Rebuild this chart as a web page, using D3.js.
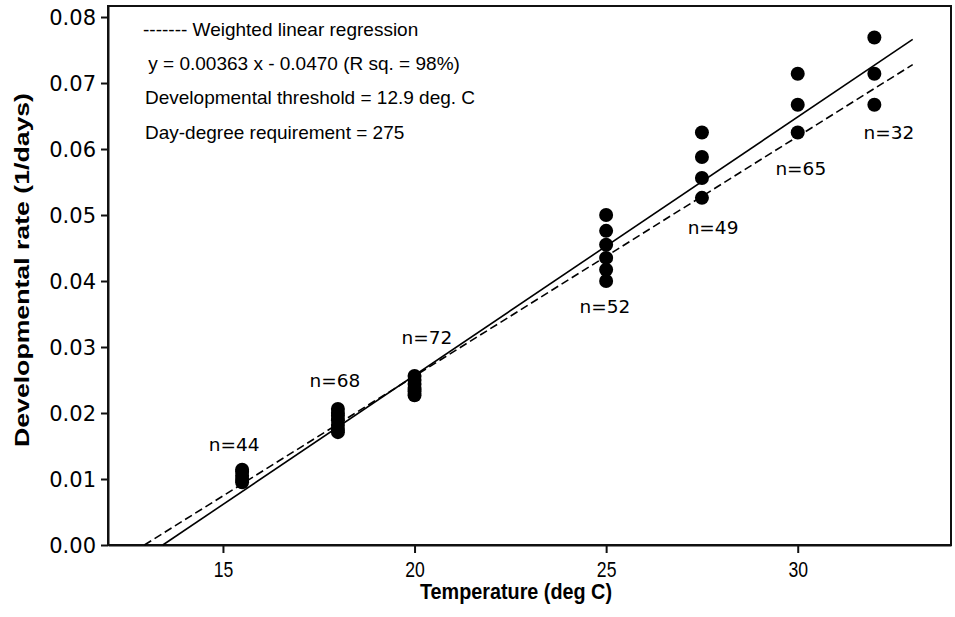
<!DOCTYPE html>
<html><head><meta charset="utf-8">
<script src="https://cdn.jsdelivr.net/npm/d3@7"></script>
<style>body{margin:0;background:#fff}svg{display:block}</style>
</head><body><svg id="c" width="955" height="617"></svg>
<script>
// ---- data ----
const temps = [15.5, 18, 20, 25, 27.5, 30, 32];
const rates155 = [0.0095, 0.0100, 0.0105, 0.0111, 0.0114];
const rates18 = [0.0171, 0.0176, 0.0182, 0.0189, 0.0196, 0.0200, 0.0206];
const rates20 = [0.0227, 0.0233, 0.0238, 0.0244, 0.0250, 0.0256];
const rates25 = [0.0400, 0.0417, 0.0435, 0.0455, 0.0476, 0.0500];
const rates275 = [0.0526, 0.0556, 0.0588, 0.0625];
const rates30 = [0.0625, 0.0667, 0.0714];
const rates32 = [0.0667, 0.0714, 0.0769];
const sampleSizes = [44, 68, 72, 52, 49, 65, 32];
const xTicks = [15, 20, 25, 30];
const yTicks = [0, 0.01, 0.02, 0.03, 0.04, 0.05, 0.06, 0.07, 0.08];
// weighted regression (dashed): y = 0.00363 x - 0.0470
const weightedLine = [[12.95, 0], [33, 0.00363 * 33 - 0.0470]];
// ordinary fit (solid)
const solidLine = [[13.43, 0], [33, 0.0766]];
// annotation anchors in data space
const labelAnchors = [[15.29, 0.0153], [17.92, 0.0250], [20.32, 0.0315], [24.97, 0.0361], [27.79, 0.0482], [30.08, 0.0570], [32.38, 0.0626]];
const legendLines = [
  "------- Weighted linear regression",
  " y = 0.00363 x - 0.0470 (R sq. = 98%)",
  "Developmental threshold = 12.9 deg. C",
  "Day-degree requirement = 275"
];
const xTitle = "Temperature (deg C)";
const yTitle = "Developmental rate (1/days)";

const groups = [rates155, rates18, rates20, rates25, rates275, rates30, rates32];
const points = [];
groups.forEach((g, i) => g.forEach(v => points.push({t: temps[i], r: v})));

// ---- layout ----
const L = 108, R = 951, T = 6, B = 545;
const svg = d3.select("#c");
const x = d3.scaleLinear().domain([12, 34]).range([L, R]);
const y = d3.scaleLinear().domain([0, 0.08167]).range([B, T]);

// frame
svg.append("rect").attr("x", L).attr("y", T).attr("width", R - L).attr("height", B - T)
  .attr("fill", "none").attr("stroke", "#111").attr("stroke-width", 2);

// axes
const xAxis = svg.append("g").attr("transform", `translate(0,${B})`)
  .call(d3.axisBottom(x).tickValues(xTicks).tickSize(8).tickSizeOuter(0).tickPadding(8));
const yAxis = svg.append("g").attr("transform", `translate(${L},0)`)
  .call(d3.axisLeft(y).tickValues(yTicks).tickFormat(d3.format(".2f")).tickSize(7).tickSizeOuter(0).tickPadding(5));
[xAxis, yAxis].forEach(a => {
  a.select(".domain").attr("stroke", "#111").attr("stroke-width", 2);
  a.selectAll(".tick line").attr("stroke", "#111").attr("stroke-width", 2);
});
xAxis.selectAll(".tick text").attr("font-family", "Liberation Sans, Arial, sans-serif")
  .attr("font-size", 22).attr("fill", "#000").attr("transform", "scale(0.8,1)");
yAxis.selectAll(".tick text").attr("font-family", "DejaVu Sans, Verdana, sans-serif")
  .attr("font-size", 21).attr("fill", "#000").attr("dy", "0.36em");

// titles
svg.append("text").attr("x", 516).attr("y", 599).attr("text-anchor", "middle")
  .attr("font-family", "Liberation Sans, Arial, sans-serif").attr("font-weight", "bold")
  .attr("font-size", 22).attr("textLength", 192).attr("lengthAdjust", "spacingAndGlyphs")
  .text(xTitle);
svg.append("text").attr("transform", "translate(29,270) rotate(-90)").attr("text-anchor", "middle")
  .attr("font-family", "Liberation Sans, Arial, sans-serif").attr("font-weight", "bold")
  .attr("font-size", 21).attr("textLength", 354).attr("lengthAdjust", "spacingAndGlyphs")
  .text(yTitle);

// lines
const line = d3.line().x(d => x(d[0])).y(d => y(d[1]));
svg.append("path").attr("d", line(solidLine)).attr("fill", "none").attr("stroke", "#000").attr("stroke-width", 1.6);
svg.append("path").attr("d", line(weightedLine)).attr("fill", "none").attr("stroke", "#000")
  .attr("stroke-width", 1.6).attr("stroke-dasharray", "8,4");

// points
svg.append("g").selectAll("circle").data(points).join("circle")
  .attr("cx", d => x(d.t)).attr("cy", d => y(d.r)).attr("r", 7).attr("fill", "#000");

// n labels
svg.append("g").selectAll("text").data(sampleSizes).join("text")
  .attr("x", (d, i) => x(labelAnchors[i][0])).attr("y", (d, i) => y(labelAnchors[i][1]))
  .attr("dy", "0.36em").attr("text-anchor", "middle")
  .attr("font-family", "DejaVu Sans, Verdana, sans-serif").attr("font-size", 18.5)
  .text(d => "n=" + d);

// legend block
const legY = [29, 63, 97, 132];
const legX = [143, 143, 145, 145];
svg.append("g").selectAll("text").data(legendLines).join("text")
  .attr("x", (d, i) => legX[i]).attr("y", (d, i) => legY[i]).attr("dy", "0.35em")
  .attr("font-family", "Liberation Sans, Arial, sans-serif").attr("font-size", 19)
  .attr("xml:space", "preserve").style("white-space", "pre")
  .text(d => d);
</script></body></html>
